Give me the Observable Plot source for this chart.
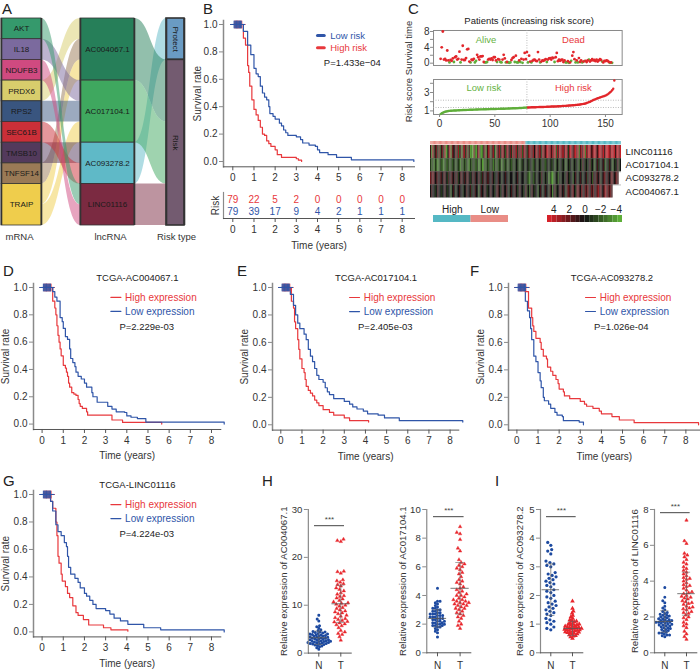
<!DOCTYPE html>
<html><head><meta charset="utf-8">
<script src="https://cdn.jsdelivr.net/npm/d3@7"></script>
<script src="https://cdn.jsdelivr.net/npm/@observablehq/plot@0.6"></script>
<style>
html,body{margin:0;padding:0;background:#fff}
#root{position:relative;width:700px;height:671px;overflow:hidden;font-family:"Liberation Sans",Arial,sans-serif;color:#222}
.lt{position:absolute;font-size:15px;line-height:15px;color:#222}
</style></head><body><div id="root"></div>
<script>
// ---------- Panel A data
const mrna = ["AKT","IL18","NDUFB3","PRDX6","RPS2","SEC61B","TMSB10","TNFSF14","TRAIP"];
const lncrna = ["AC004067.1","AC017104.1","AC093278.2","LINC01116"];
const riskTypes = ["Protect","Risk"];
const mrnaLinks = [["PRDX6","AC004067.1",1],["TNFSF14","AC004067.1",1],["TRAIP","AC004067.1",1],["IL18","AC017104.1",1],["RPS2","AC017104.1",1],["TRAIP","AC017104.1",1],["TMSB10","AC093278.2",1],["SEC61B","AC093278.2",1],["AKT","LINC01116",1],["NDUFB3","LINC01116",1]];
const lncLinks = [["AC093278.2","Protect",2],["AC004067.1","Risk",3],["AC017104.1","Risk",3],["LINC01116","Risk",2]];
const nodeColors = {AKT:"#35996c",IL18:"#7b6a9e",NDUFB3:"#d04a80",PRDX6:"#d8cd6c",RPS2:"#39557f",SEC61B:"#cb2f38",TMSB10:"#533a5c",TNFSF14:"#9a7a56",TRAIP:"#efcd4c","AC004067.1":"#267f59","AC017104.1":"#3fa85f","AC093278.2":"#5fb9c7",LINC01116:"#7b2a41",Protect:"#6a9bc3",Risk:"#735b70"};

// ---------- Panel B data
const bLow = [[-0.1,1],[0.5,.95],[0.7,.85],[0.85,.78],[1,.68],[1.1,.64],[1.2,.62],[1.3,.55],[1.4,.5],[1.5,.47],[1.6,.45],[1.7,.4],[1.75,.35],[1.9,.33],[2,.31],[2.2,.28],[2.3,.26],[2.4,.23],[2.5,.21],[2.6,.19],[3,.18],[3.2,.16],[3.3,.135],[3.6,.12],[3.9,.11],[4,.085],[4.1,.065],[4.5,.05],[4.9,.03],[5.6,.012],[8.55,0]];
const bHigh = [[-0.1,1],[0.5,.9],[0.6,.85],[0.7,.7],[0.75,.65],[0.8,.55],[0.9,.45],[1,.38],[1.1,.34],[1.2,.3],[1.3,.25],[1.4,.2],[1.5,.19],[1.6,.15],[1.7,.13],[1.8,.11],[2,.085],[2.1,.05],[2.3,.03],[3,.02],[3.1,.01],[3.25,0]];
const riskYears = [0,1,2,3,4,5,6,7,8];
const riskHigh = [79,22,5,2,0,0,0,0,0];
const riskLow = [79,39,17,9,4,2,1,1,1];
const censored = [0.06,0.1,0.14,0.18,0.2,0.24,0.28,0.32,0.36,0.4];

// ---------- Panels D-G data
const dHigh = [[-0.1,1],[.5,.9],[.6,.85],[.65,.8],[.7,.72],[.75,.65],[.8,.6],[.85,.55],[.9,.5],[1,.43],[1.1,.41],[1.15,.38],[1.2,.35],[1.25,.3],[1.3,.27],[1.4,.23],[1.5,.22],[1.6,.21],[1.7,.18],[1.75,.15],[1.8,.13],[1.9,.115],[2.1,.09],[2.15,.065],[3.3,.03],[3.8,.012],[5.65,0]];
const dLow = [[-0.1,1],[.5,.97],[.6,.93],[.7,.9],[.85,.78],[.95,.75],[1,.7],[1.1,.64],[1.2,.62],[1.3,.55],[1.35,.48],[1.45,.45],[1.55,.42],[1.6,.38],[1.7,.35],[1.85,.33],[2,.3],[2.1,.27],[2.35,.23],[2.4,.2],[2.6,.18],[2.6,.16],[3.1,.13],[3.3,.11],[3.5,.09],[3.9,.085],[4,.06],[4.2,.05],[4.5,.04],[4.9,.015],[8.6,0]];
const eHigh = [[-0.1,1],[.5,.9],[.6,.85],[.65,.75],[.7,.7],[.8,.62],[.85,.55],[.9,.48],[1,.41],[1.1,.38],[1.15,.33],[1.2,.28],[1.3,.25],[1.4,.23],[1.5,.21],[1.6,.18],[1.7,.16],[1.8,.14],[2,.11],[2.3,.09],[2.5,.07],[3,.05],[3.25,.03],[4.15,.02]];
const eLow = [[-0.1,1],[.45,.95],[.6,.87],[.7,.8],[.8,.74],[.9,.7],[1.1,.66],[1.2,.62],[1.3,.55],[1.4,.5],[1.5,.46],[1.6,.41],[1.7,.36],[1.8,.33],[2,.31],[2.1,.27],[2.2,.24],[2.3,.22],[2.5,.19],[3,.17],[3.25,.15],[3.4,.13],[3.6,.115],[3.9,.1],[4.1,.08],[4.6,.07],[4.9,.05],[5.6,.03],[8.6,.02]];
const fHigh = [[-0.1,1],[.4,.97],[.55,.85],[.7,.78],[.75,.72],[.8,.68],[.9,.63],[1.1,.6],[1.15,.55],[1.25,.5],[1.4,.48],[1.45,.42],[1.6,.39],[1.7,.36],[1.85,.33],[1.95,.3],[2,.26],[2.2,.24],[2.25,.21],[2.5,.19],[3,.17],[3.2,.15],[3.3,.135],[3.6,.12],[3.9,.1],[4,.08],[4.5,.06],[4.85,.035],[5.55,.015],[8.6,0]];
const fLow = [[-0.1,1],[.4,.9],[.5,.83],[.6,.78],[.65,.7],[.7,.62],[.8,.5],[.9,.46],[1,.38],[1.1,.32],[1.15,.27],[1.25,.2],[1.3,.175],[1.5,.15],[1.6,.12],[1.8,.09],[1.9,.07],[2.15,.06],[2.2,.03],[2.95,.02],[3.15,0]];
const gHigh = [[-0.1,1],[.4,.95],[.5,.9],[.65,.8],[.7,.7],[.75,.55],[.8,.5],[.9,.42],[.95,.37],[1.1,.33],[1.2,.28],[1.3,.25],[1.45,.19],[1.6,.14],[1.7,.12],[1.95,.09],[2.2,.05],[2.9,.03],[3.25,.015],[4.05,.005]];
const gLow = [[-0.1,1],[.4,.95],[.5,.88],[.65,.78],[.75,.73],[.9,.7],[1.05,.65],[1.15,.62],[1.2,.55],[1.25,.47],[1.35,.42],[1.55,.39],[1.7,.36],[1.8,.32],[2,.28],[2.1,.26],[2.25,.23],[2.4,.2],[2.55,.17],[3,.155],[3.2,.13],[3.4,.1],[3.7,.08],[4.05,.055],[4.8,.03],[5.6,.015],[8.6,0]];

// ---------- Panel C data
const survivalYears = [1.1,4.0,8.0,.9,1.1,.7,3.2,.7,.2,.8,.6,1.2,.3,1.5,1.7,.9,1.1,2.9,.2,.9,4.4,.8,.8,1.3,3.5,3.6,.4,.2,.9,.8,1.1,.2,.6,2.1,1.5,.9,1.7,1.7,1.8,.3,.2,.2,.3,.9,1.1,.9,1.2,.8,1.5,1.5,.7,.3,1.0,.9,.3,.2,.9,2.1,1.2,.2,.3,.2,.1,.2,.8,1.3,1.5,.3,1.9,.2,.2,.7,.3,1.1,.1,.9,2.6,1.0,2.8,.2,1.9,.4,.2,.6,.8,.9,.6,.5,2.8,.9,.2,.4,.7,.6,.8,1.0,.3,.9,1.2,1.3,.9,1.4,1.3,.3,1.5,2.6,.5,.9,.6,.8,.9,.3,.7,.2,.2,.5,.1,.2,.6,1.9,2.8,1.0,.2,.7,.2,1.3,.3,.7,.2,.4,.5,.6,.3,.7,.9,.4,.7,1.0,.7,.8,.5,.9,.4,.7,1.0,.8,.4,.2,.6,.5,.7,.6,.3,.1,.2,.1];
const aliveRanks = [9,13,19,28,32,33,41,42,43,52,55,56,60,62,63,64,68,70,71,73,75,80,83,91,97,104,114,115,117,119,123,125,129,131,135,147,154,156,157,158];
const riskScore = [.65,.75,.8,.86,.9,.93,.96,.98,1.0,1.01,1.02,1.03,1.04,1.05,1.05,1.06,1.07,1.07,1.08,1.08,1.09,1.09,1.1,1.1,1.11,1.11,1.12,1.12,1.13,1.13,1.14,1.14,1.15,1.15,1.16,1.16,1.17,1.17,1.17,1.18,1.18,1.18,1.19,1.19,1.19,1.2,1.2,1.2,1.21,1.21,1.21,1.22,1.22,1.22,1.23,1.23,1.24,1.24,1.24,1.25,1.25,1.26,1.26,1.27,1.27,1.28,1.28,1.29,1.29,1.3,1.3,1.31,1.31,1.32,1.33,1.34,1.35,1.36,1.37,1.37,1.38,1.38,1.39,1.39,1.4,1.4,1.4,1.41,1.41,1.42,1.42,1.43,1.43,1.43,1.44,1.44,1.45,1.45,1.46,1.46,1.47,1.47,1.48,1.48,1.49,1.49,1.5,1.5,1.51,1.52,1.53,1.54,1.55,1.55,1.56,1.57,1.58,1.59,1.6,1.61,1.62,1.63,1.64,1.65,1.66,1.68,1.7,1.72,1.74,1.76,1.78,1.8,1.85,1.9,1.95,2.0,2.06,2.12,2.18,2.22,2.28,2.33,2.38,2.42,2.46,2.5,2.55,2.58,2.62,2.66,2.72,2.8,2.9,3.0,3.1,3.25,3.4,4.3];
const heatRows = ["LINC01116","AC017104.1","AC093278.2","AC004067.1"];
const heatLinc = [1,-3,3,-1,1,2,-1,2,-2,1,2,-1,3,-4,-2,1,3,-3,2,1,0,2,-1,3,-2,1,-3,2,3,-1,2,-2,1,-4,-3,-4,2,-3,-4,1,3,-2,-4,-3,1,2,-3,1,3,2,-2,1,3,-1,-3,2,1,3,-1,2,3,1,-2,2,3,0,2,-1,3,1,2,3,-1,2,1,3,-2,2,3,1,-1,2,3,2,1,3,0,2,3,1,3,2,-1,3,2,1,3,4,2,3,1,3,2,4,-2,3,1,4,2,3,3,1,4,2,-1,3,4,2,1,3,4,2,3,-3,2,3,1,4,-3,3,2,4,3,1,2,3,4,2,1,3,4,3,2,4,1,3,4,4,3,2,4,3,4,1,3,4,2,4];
const heatAc17 = [-1,-2,-1,-3,-1,-2,-3,-2,-1,-2,-2,-3,-1,-2,-2,-1,-2,-1,-2,-1,-1,-2,-1,-1,-2,-3,-1,-2,-1,-2,-1,-2,-3,-1,-2,-1,-1,-2,-2,-1,-3,-2,-1,-4,-3,-1,-2,-1,-2,-1,-1,-1,-3,-1,-2,-1,-2,-1,-1,-3,-1,-2,-1,-1,-2,-1,-1,-2,-1,-1,-1,0,-1,-1,-2,-1,-1,0,-1,-1,0,-1,-1,0,-1,-2,-1,0,-1,-1,0,-1,-1,0,-1,-2,-1,0,-1,0,-1,-1,0,-2,-1,0,-1,-1,0,-1,0,-1,-2,-1,0,-1,0,-1,-1,0,-1,0,-1,-2,0,-1,1,0,-1,0,-1,0,1,-1,0,-1,-2,0,1,-1,0,-1,0,1,-1,-2,0,-1,1,0,-1,-2,0,-1,0,1,-1,0];
const heatAc93 = [2,1,2,1,0,1,1,0,1,1,0,1,1,0,-1,1,0,1,1,0,1,0,1,-1,0,1,1,0,1,0,1,1,0,-1,0,1,0,1,0,0,1,0,-1,1,0,1,0,1,1,0,0,1,0,-1,0,0,1,0,0,-1,0,0,1,0,0,-1,0,0,0,-1,0,0,1,0,-1,0,0,0,-1,0,-1,-2,-3,-1,0,-2,-1,0,-1,0,0,-1,1,0,-1,0,-1,0,-3,-1,-3,-4,-2,-1,0,-1,-2,0,-1,0,0,-1,0,1,0,-1,0,0,-2,0,1,0,-1,0,1,0,-1,0,0,1,-1,0,1,0,-2,1,0,1,1,0,1,-1,0,1,2,1,0,1,0,1,2,1,0,1,2,1];
const heatAc40 = [0,1,0,0,-1,0,1,0,0,-1,0,0,1,0,-1,0,0,-2,0,1,0,-1,0,0,1,0,0,-1,0,0,1,0,0,1,-1,0,0,1,0,0,-2,0,1,0,0,1,0,-1,0,0,1,0,0,-1,0,1,1,0,-1,0,1,0,0,1,0,-1,0,1,0,0,1,0,-1,0,1,0,0,-1,0,1,-1,0,-2,0,1,0,-1,0,0,-2,0,1,0,-1,0,1,0,0,-1,1,0,-3,0,1,-1,0,0,1,1,0,1,0,-1,1,2,1,0,1,2,0,-1,1,2,1,0,2,1,0,2,1,2,1,0,2,1,2,0,1,2,3,1,2,0,1,2,3,1,2,1,2,1];
const heatTicks = [4,2,0,-2,-4];
const heatBarSteps = [4.8,4.2,3.6,3,2.4,1.8,1.2,.6,0,-.6,-1.2,-1.8,-2.4,-3,-3.6,-4.2];

// ---------- Panels H, I data
const ac40N = [.8,1.1,1.3,1.5,1.6,1.7,1.8,1.9,1.9,2,2,2.1,2.1,2.2,2.2,2.3,2.4,2.4,2.5,2.5,2.6,2.6,2.7,2.8,2.8,2.9,3,3,3.1,3.1,3.2,3.3,3.3,3.4,3.5,3.5,3.6,3.7,3.8,3.8,3.9,4,4,4.1,4.2,4.3,4.4,4.4,4.5,4.7,4.9,5.2,5.5,5.7,6.7,7.1,7.9];
const ac40T = [2.7,3.4,3.9,4.1,4.4,4.7,5.3,5.7,5.9,6.1,6.3,6.5,6.6,6.8,7,7.2,7.4,7.7,7.9,8.2,8.4,8.6,8.8,9,9.3,9.5,9.8,10,10.2,10.4,10.5,10.7,11,11.3,11.5,11.8,12,12.3,12.6,13,13.3,13.6,14,14.3,14.5,14.8,15.1,15.3,16.7,17,17.1,23.3,23.5,23.8];
const ac17N = [1.1,1.4,1.5,1.6,1.7,1.8,1.8,1.9,1.9,1.9,2,2,2,2.1,2.1,2.1,2.2,2.2,2.2,2.3,2.3,2.4,2.4,2.4,2.5,2.5,2.5,2.6,2.6,2.6,2.7,2.7,2.7,2.8,2.8,2.9,2.9,3,3,3.1,3.1,3.2,3.3,3.4,3.5,3.6,3.6,4.5];
const ac17T = [1.7,1.9,2,2.2,2.4,2.5,2.6,2.7,2.8,2.9,3,3.1,3.1,3.2,3.3,3.3,3.4,3.4,3.5,3.5,3.6,3.6,3.7,3.7,3.8,3.9,4,4,4.1,4.2,4.3,4.4,4.5,4.6,4.8,4.9,5,5.1,5.3,5.5,5.6,5.8,5.9,6,6.1,6.2,6.3,6.5,7.1,7.3,7.9,8.3,8.4,8.8];
const ac93N = [.8,.85,.9,1,1.05,1.1,1.15,1.2,1.3,1.35,1.4,1.45,1.5,1.55,1.6,1.65,1.7,1.75,1.8,1.9,1.95,2,2.1,2.15,2.2,2.3,2.35,2.4,2.45,2.5,2.55,2.6,2.65,2.7,2.75,2.8,3,3.05,3.1,3.15,3.2,3.45,3.55,3.6,3.75,3.85];
const ac93T = [.5,.55,.58,.6,.62,.65,.66,.68,.7,.7,.72,.73,.75,.76,.78,.78,.8,.8,.82,.83,.85,.85,.87,.88,.9,.9,.92,.93,.95,.96,.98,1,1,1.02,1.05,1.08,1.1,1.12,1.15,1.2,1.25,1.3,1.38,1.45,1.55,1.8];
const lincN = [.9,.95,1,1,1.05,1.1,1.1,1.15,1.2,1.25,1.3,1.3,1.35,1.4,1.4,1.45,1.5,1.5,1.55,1.55,1.6,1.6,1.65,1.65,1.7,1.7,1.7,1.75,1.75,1.8,1.8,1.85,1.85,1.9,1.9,1.95,2,2,2.05,2.1,2.1,2.15,2.2,2.25,2.3,2.4,2.5,2.6,2.8,2.9,3.1,3.65];
const lincT = [.75,.9,1.05,1.2,1.4,1.5,1.6,1.7,1.85,1.95,2,2.1,2.2,2.25,2.3,2.4,2.45,2.5,2.55,2.6,2.7,2.75,2.8,2.85,2.9,3,3.05,3.1,3.15,3.2,3.3,3.35,3.4,3.5,3.6,3.7,3.75,3.8,3.9,4,4.1,4.15,4.2,4.3,4.4,4.5,4.6,4.7,4.8,4.95,5.05,5.2,5.35,5.45,5.55,6.1,6.25,7.4];
const swarmStats = {ac40:[[3.2,1.4],[10.3,3.9]],ac17:[[2.4,.6],[4.5,1.8]],ac93:[[2.2,.9],[.85,.25]],linc:[[1.75,.6],[3.3,1.2]]};

// ---------- Styling
const RED="#e8383c", BLUE="#2f55a8", AX="#8a8a8a", TXT="#333";
const FONT='"Liberation Sans",Arial,sans-serif';
const root=document.getElementById("root");
function place(svg,left,top){svg.style.position="absolute";svg.style.left=left+"px";svg.style.top=top+"px";svg.style.maxWidth="none";root.appendChild(svg);}
const base={style:{fontFamily:FONT,fontSize:"10px",background:"transparent",overflow:"visible",color:TXT}};

// letters
[["A",2,1],["B",203,1],["C",408,1],["D",3,263],["E",237,263],["F",470,263],["G",3,473],["H",262,473],["I",495,473]].forEach(([t,l,y])=>{
  const d=document.createElement("div");d.className="lt";d.textContent=t;d.style.left=l+"px";d.style.top=y+"px";root.appendChild(d);});

// ---------- Panel A: Sankey
(function(){
  const layout={};
  const valueOf=(n,links,key)=>d3.sum(links.filter(l=>l[key]===n),l=>l[2]);
  const cols=[
    {names:mrna,x1:1,x2:41,size:n=>valueOf(n,mrnaLinks,0)},
    {names:lncrna,x1:80,x2:134,size:n=>valueOf(n,mrnaLinks,1)},
    {names:riskTypes,x1:166,x2:184,size:n=>valueOf(n,lncLinks,1)}];
  const nodes=[];
  cols.forEach(c=>{let y=0;c.names.forEach(n=>{const s=c.size(n);nodes.push({name:n,x1:c.x1,x2:c.x2,y1:y,y2:y+s,col:cols.indexOf(c)});layout[n]={top:y,x1:c.x1,x2:c.x2};y+=s;});});
  const ribbons=[];let id=0;
  const outOff={},inOff={};
  const addLinks=(links)=>links.forEach(([s,t,v])=>{
    const so=outOff[s]??layout[s].top, to=inOff[t]??layout[t].top;
    outOff[s]=so+v; inOff[t]=to+v;
    ribbons.push({id,name:s,x:layout[s].x2,y1:so,y2:so+v});
    ribbons.push({id,name:s,x:layout[t].x1,y1:to,y2:to+v});id++;
  });
  addLinks(mrnaLinks);addLinks(lncLinks);
  const edges=cols.flatMap(c=>[c.x1,c.x2]);
  const svg=Plot.plot({...base,width:195,height:245,marginLeft:0,marginRight:0,marginTop:18,marginBottom:20,
    x:{domain:[0,195],axis:null},y:{domain:[10,0],range:[225,18],axis:null},
    marks:[
      Plot.areaY(ribbons,{x:"x",y1:"y1",y2:"y2",z:"id",fill:d=>nodeColors[d.name],fillOpacity:.5,curve:"bump-x"}),
      Plot.rect(nodes,{x1:"x1",x2:"x2",y1:"y1",y2:"y2",fill:d=>nodeColors[d.name],stroke:"#333",strokeWidth:d=>d.col==2?1.6:.8}),
      Plot.ruleX(edges,{x:d=>d,y1:0,y2:10,stroke:"#333",strokeWidth:1.6}),
      Plot.text(nodes.filter(d=>d.col<2),{x:d=>(d.x1+d.x2)/2,y:d=>(d.y1+d.y2)/2,text:"name",fill:"#1a1a1a",fontSize:8}),
      Plot.text(nodes.filter(d=>d.col==2),{x:d=>(d.x1+d.x2)/2,y:d=>(d.y1+d.y2)/2,text:"name",fill:"#1a1a1a",fontSize:8,rotate:90}),
      Plot.text([["mRNA",19],["lncRNA",110],["Risk type",176]],{x:d=>d[1],y:10.55,text:d=>d[0],fill:TXT,fontSize:9.5})
    ]});
  place(svg,0,0);
})();

// ---------- KM panels
const kmRows=a=>a.map(([t,s])=>({t,s}));
function km(o){
  const k=(o.x8-o.x0)/8,v=o.y0-o.y1,top=o.y1-4;
  const ml=36,mt=26,mb=32;
  const xd=[(o.axL-o.x0)/k,(o.axR-o.x0)/k],yd=[(o.y0-o.axB)/v,(o.y0-top)/v];
  const ticksX=riskYears;
  const marks=[
    Plot.frame({anchor:"left",stroke:AX,strokeWidth:1.5}),
    Plot.frame({anchor:"bottom",stroke:"#555",strokeWidth:1}),
    Plot.line(kmRows(o.second),{x:"t",y:"s",curve:"step-after",stroke:o.secondColor,strokeWidth:1.2}),
    Plot.line(kmRows(o.first),{x:"t",y:"s",curve:"step-after",stroke:o.firstColor,strokeWidth:1.2}),
    Plot.dot(censored,{x:d=>d,y:1,symbol:"plus",r:2.6,stroke:RED,strokeWidth:.8,dx:.6}),
    Plot.dot(censored,{x:d=>d,y:1,symbol:"plus",r:2.6,stroke:BLUE,strokeWidth:1}),
    Plot.axisY({ticks:[0,.2,.4,.6,.8,1],tickFormat:".1f",tickSize:4,tickPadding:2,color:TXT,stroke:AX,label:"Survival rate",labelAnchor:"center",labelArrow:"none",labelOffset:o.labelOffset??31.5}),
    ...o.extra
  ];
  if(!o.noXLabel) marks.push(Plot.axisX({ticks:ticksX,tickSize:4,tickPadding:3,color:TXT,stroke:"#555",label:"Time (years)",labelAnchor:"center",labelArrow:"none",labelOffset:30}));
  else marks.push(Plot.axisX({ticks:ticksX,tickSize:4,tickPadding:3,color:TXT,stroke:"#555",label:null}));
  const svg=Plot.plot({...base,width:o.axR-o.axL+ml+1,height:o.axB-top+mt+mb,marginLeft:ml,marginRight:1,marginTop:mt,marginBottom:mb,
    x:{domain:xd,axis:null},y:{domain:yd,axis:null},marks});
  place(svg,o.axL-ml,top-mt);
}
function kmLegend(title,p){
  return [
    Plot.text([title],{x:4.5,y:1.072,fill:"#222",fontSize:9.5}),
    Plot.line([[3.25,.927],[3.72,.927]],{x:d=>d[0],y:d=>d[1],stroke:RED,strokeWidth:1.2}),
    Plot.line([[3.25,.825],[3.72,.825]],{x:d=>d[0],y:d=>d[1],stroke:BLUE,strokeWidth:1.2}),
    Plot.text(["High expression"],{x:3.92,y:.927,textAnchor:"start",fill:RED,fontSize:10}),
    Plot.text(["Low expression"],{x:3.92,y:.825,textAnchor:"start",fill:BLUE,fontSize:10}),
    Plot.text([p],{x:3.65,y:.714,textAnchor:"start",fill:"#222",fontSize:9.5})
  ];
}
km({x0:41.3,x8:210.7,y1:286.7,y0:423.3,axL:32.7,axR:220,axB:428.7,first:dLow,firstColor:BLUE,second:dHigh,secondColor:RED,extra:kmLegend("TCGA-AC004067.1","P=2.229e-03")});
km({x0:280,x8:449.3,y1:286.7,y0:424,axL:271.7,axR:458,axB:429.3,first:eLow,firstColor:BLUE,second:eHigh,secondColor:RED,extra:kmLegend("TCGA-AC017104.1","P=2.405e-03")});
km({x0:516.7,x8:685.7,y1:286.7,y0:424,axL:508.3,axR:700,axB:429.3,first:fHigh,firstColor:RED,second:fLow,secondColor:BLUE,extra:kmLegend("TCGA-AC093278.2","P=1.026e-04")});
km({x0:41.3,x8:210.7,y1:494.3,y0:631.7,axL:32.7,axR:220,axB:636.7,first:gLow,firstColor:BLUE,second:gHigh,secondColor:RED,extra:kmLegend("TCGA-LINC01116","P=4.224e-03")});

// Panel B
km({x0:232.3,x8:401.7,y1:23.7,y0:160.7,axL:223,axR:414,axB:166,first:bLow,firstColor:BLUE,second:bHigh,secondColor:RED,noXLabel:true,labelOffset:30,extra:[
  Plot.line([[4.0,.92],[4.32,.92]],{x:d=>d[0],y:d=>d[1],stroke:BLUE,strokeWidth:3}),
  Plot.line([[4.0,.83],[4.32,.83]],{x:d=>d[0],y:d=>d[1],stroke:RED,strokeWidth:3}),
  Plot.text(["Low risk"],{x:4.6,y:.92,textAnchor:"start",fill:BLUE,fontSize:9.5}),
  Plot.text(["High risk"],{x:4.6,y:.83,textAnchor:"start",fill:RED,fontSize:9.5}),
  Plot.text(["P=1.433e\u221204"],{x:4.3,y:.72,textAnchor:"start",fill:"#222",fontSize:9.5})
]});
// Risk table
(function(){
  const k=(401.7-232.3)/8;
  const table=[...riskYears.map((x,i)=>({x,g:"High",n:riskHigh[i]})),...riskYears.map((x,i)=>({x,g:"Low",n:riskLow[i]}))];
  const svg=Plot.plot({...base,width:191+20+1,height:26+34+2,marginLeft:20,marginRight:1,marginTop:2,marginBottom:34,
    x:{domain:[(223-232.3)/k,(414-232.3)/k],axis:null},
    y:{type:"point",domain:["High","Low"],axis:null,padding:.55},
    marks:[
      Plot.frame({anchor:"left",stroke:AX,strokeWidth:1.2}),
      Plot.frame({anchor:"bottom",stroke:"#555",strokeWidth:1}),
      Plot.text(table,{x:"x",y:"g",text:d=>String(d.n),fill:d=>d.g=="High"?RED:BLUE,fontSize:10}),
      Plot.axisX({ticks:riskYears,tickSize:4,tickPadding:3,color:TXT,stroke:"#555",label:"Time (years)",labelAnchor:"center",labelArrow:"none",labelOffset:30}),
      Plot.text(["Risk"],{frameAnchor:"left",textAnchor:"middle",dx:-8,rotate:-90,fill:TXT,fontSize:10})
    ]});
  place(svg,203,190);
})();

// ---------- Panel C top
(function(){
  const k=(605-439)/150;
  const ranks=survivalYears.map((v,i)=>({r:i+1,v,alive:aliveRanks.includes(i+1)}));
  const xd=[(433-439)/k,(621.7-439)/k];
  const yk=(62.7-31)/8;
  const common={x:{domain:xd,axis:null}};
  const svg1=Plot.plot({...base,...common,width:188.7+30,height:35+20,marginLeft:29,marginRight:1,marginTop:19,marginBottom:1,
    y:{domain:[(62.7-65)/yk,(62.7-30)/yk],axis:null},
    marks:[
      Plot.frame({stroke:AX,strokeWidth:1}),
      Plot.ruleX([79],{stroke:"#aaa",strokeDasharray:"1,1.5",strokeWidth:.8}),
      Plot.dot(ranks.filter(d=>d.alive),{x:"r",y:"v",r:1.4,fill:"#5fae3a"}),
      Plot.dot(ranks.filter(d=>!d.alive),{x:"r",y:"v",r:1.4,fill:"#e2262b"}),
      Plot.axisY({ticks:[0,4,8],tickFormat:"d",tickSize:3,tickPadding:1,color:TXT,stroke:AX,label:null}),
      Plot.axisY({ticks:[2,6],tickFormat:()=>"",tickSize:3,stroke:AX,label:null}),
      Plot.text(["Alive"],{x:42,y:5.9,fill:"#66b23f",fontSize:9.5}),
      Plot.text(["Dead"],{x:121,y:5.9,fill:RED,fontSize:9.5}),
      Plot.text(["Patients (increasing risk score)"],{x:81,y:10.7,fill:"#222",fontSize:9.5}),
      Plot.text(["Survival time"],{frameAnchor:"left",textAnchor:"middle",dx:-25,rotate:-90,fill:TXT,fontSize:9.5})
    ]});
  place(svg1,404,11);
  const yr=(110.7-92.3)/2;
  const scored=riskScore.map((v,i)=>({r:i+1,v}));
  const svg2=Plot.plot({...base,...common,width:188.7+30,height:35+20,marginLeft:29,marginRight:1,marginTop:1,marginBottom:19,
    y:{domain:[1-(114.3-110.7)/yr,3+(92.3-79.3)/yr],axis:null},
    marks:[
      Plot.frame({stroke:AX,strokeWidth:1}),
      Plot.ruleX([79],{stroke:"#aaa",strokeDasharray:"1,1.5",strokeWidth:.8}),
      Plot.ruleY([1.37,2.16],{stroke:"#aaa",strokeDasharray:"1,1.5",strokeWidth:.8}),
      Plot.dot(scored.filter(d=>d.r<=79),{x:"r",y:"v",r:1.2,fill:"#5fae3a"}),
      Plot.dot(scored.filter(d=>d.r>79),{x:"r",y:"v",r:1.2,fill:"#e2262b"}),
      Plot.axisY({ticks:[1,3],tickFormat:"d",tickSize:3,tickPadding:1,color:TXT,stroke:AX,label:null}),
      Plot.axisY({ticks:[2,4],tickFormat:()=>"",tickSize:3,stroke:AX,label:null}),
      Plot.axisX({ticks:[0,50,100,150],tickSize:3,tickPadding:2,color:TXT,stroke:AX,label:null}),
      Plot.text(["Low risk"],{x:40,y:3.48,fill:"#66b23f",fontSize:9.5}),
      Plot.text(["High risk"],{x:121,y:3.48,fill:RED,fontSize:9.5}),
      Plot.text(["Risk score"],{frameAnchor:"left",textAnchor:"middle",dx:-25,dy:3,rotate:-90,fill:TXT,fontSize:9.5})
    ]});
  place(svg2,404,78);
})();

// ---------- Heatmap
(function(){
  const rows=[heatLinc,heatAc17,heatAc93,heatAc40];
  const cells=rows.flatMap((a,ri)=>a.map((v,c)=>({c,row:heatRows[ri],v})));
  const color={type:"linear",domain:[-4.8,0,4.8],range:["#62b83a","#121212","#e3222b"],clamp:true};
  const order=d3.range(158);
  const svg=Plot.plot({...base,width:191,height:52.5,marginLeft:0,marginRight:0,marginTop:0,marginBottom:0,
    x:{type:"band",domain:order,round:false,padding:0,axis:null},
    y:{type:"band",domain:heatRows,round:false,padding:0,axis:null},
    color,
    marks:[
      Plot.cell(cells,{x:"c",y:"row",fill:"v"}),
      Plot.ruleY(heatRows.slice(1),{y:d=>d,stroke:"#555",strokeWidth:.4,dy:-6.5}),
      Plot.text(heatRows,{y:d=>d,frameAnchor:"right",dx:4,textAnchor:"start",fill:"#222",fontSize:9.6})
    ]});
  place(svg,430,145.3);
  const groups=order.map(c=>({c,g:c<79?"Low":"High"}));
  const bar=Plot.plot({...base,width:191,height:3.4,margin:0,
    x:{type:"band",domain:order,round:false,padding:0,axis:null},
    marks:[Plot.cell(groups,{x:"c",fill:d=>d.g=="Low"?"#e98d86":"#55b8c4"})]});
  place(bar,430,141);
  const leg=Plot.plot({...base,width:75,height:7+14,marginLeft:0,marginRight:0,marginTop:14,marginBottom:0,
    x:{type:"band",domain:["High","Low"],round:false,padding:0,axis:null},
    marks:[Plot.cell(["High","Low"],{x:d=>d,fill:d=>d=="High"?"#55b8c4":"#e98d86"}),
      Plot.axisX({anchor:"top",tickSize:0,tickPadding:3,color:"#222",label:null,fontSize:10})]});
  place(leg,433,201);
  const cb=Plot.plot({...base,width:75,height:21,marginLeft:0,marginRight:0,marginTop:14,marginBottom:0,
    x:{domain:[4.8,-4.8],axis:null},color,
    marks:[Plot.rect(heatBarSteps,{x1:d=>d,x2:d=>d-.6,fill:d=>d-.3}),
      Plot.axisX({anchor:"top",ticks:heatTicks,tickSize:0,tickPadding:3,color:"#222",label:null,fontSize:10})]});
  place(cb,546.7,201);
})();

// ---------- Swarm panels
function swarm(o){
  const {axX,yTopPx,yBotPx,yMax,N,T,stats,label,ticks,sig,nx,tx,right,labelX,rN,rT}=o;
  const step=tx-nx,inner=.05,bw=step*(1-inner);
  const outer=(nx-axX-bw/2)/step;
  const rowsN=N.map(v=>({g:"N",v})),rowsT=T.map(v=>({g:"T",v}));
  const st=[{g:"N",m:stats[0][0],s:stats[0][1]},{g:"T",m:stats[1][0],s:stats[1][1]}];
  const ml=axX-labelX+10,mr=12,mt=6,mb=22;
  const gw=right-axX;
  const swarmMark=(rows,r,symbol,col)=>Plot.dot(rows,Plot.dodgeX("middle",{fx:"g",y:"v",r,padding:0,symbol,fill:col,stroke:col,strokeWidth:Math.max(0,2*(1.5-r))}));
  const svg=Plot.plot({...base,width:ml+gw+mr,height:yBotPx-yTopPx+mt+mb,marginLeft:ml,marginRight:mr+(gw-(2*outer*step+step+bw)),marginTop:mt,marginBottom:mb,
    fx:{domain:["N","T"],paddingInner:inner,paddingOuter:outer,round:false,axis:null},
    x:{domain:[-1,1],axis:null},
    y:{domain:[0,yMax],axis:null},
    marks:[
      swarmMark(rowsN,rN,"circle","#1d4aa0"),
      swarmMark(rowsT,rT,"triangle","#e8262c"),
      Plot.ruleX(st,{fx:"g",x:0,y1:d=>d.m-d.s,y2:d=>d.m+d.s,stroke:"#666",strokeWidth:.7}),
      Plot.ruleY(st,{fx:"g",y:"m",x1:-.85,x2:.85,stroke:"#555",strokeWidth:.8}),
      Plot.ruleY(st,{fx:"g",y:d=>d.m-d.s,x1:-.4,x2:.4,stroke:"#666",strokeWidth:.6}),
      Plot.ruleY(st,{fx:"g",y:d=>d.m+d.s,x1:-.4,x2:.4,stroke:"#666",strokeWidth:.6}),
      Plot.frame({anchor:"left",stroke:AX,strokeWidth:1.2,facet:"super"}),
      Plot.frame({anchor:"bottom",stroke:"#555",strokeWidth:1,facet:"super"}),
      Plot.axisY({ticks,tickFormat:"d",tickSize:4,tickPadding:2,color:TXT,stroke:AX,fontSize:9.6,label,labelAnchor:"center",labelArrow:"none",labelOffset:axX-labelX+3.5}),
      Plot.axisFx({anchor:"bottom",tickSize:4,tickPadding:5,color:TXT,stroke:"#555",label:null})
    ]});
  place(svg,axX-ml,yTopPx-mt);
  const sb=Plot.plot({...base,width:step+8,height:14,margin:0,x:{domain:["N","T"],type:"point",range:[4,step+4],axis:null},y:{domain:[0,1],axis:null},
    marks:[Plot.ruleY([0.2],{stroke:"#444",strokeWidth:1}),Plot.text(["***"],{frameAnchor:"middle",dy:-2,fill:"#444",fontSize:8})]});
  place(sb,nx-4,sig-11);
}
swarm({axX:304.3,yTopPx:508.7,yBotPx:652.3,yMax:30,N:ac40N,T:ac40T,rN:.75,rT:1.3,stats:swarmStats.ac40,label:"Relative expression of AC004067.1",ticks:[0,10,20,30],sig:525.3,nx:318.3,tx:340.3,right:353.3,labelX:280});
swarm({axX:421,yTopPx:509,yBotPx:652.3,yMax:10,N:ac17N,T:ac17T,rN:.8,rT:1.3,stats:swarmStats.ac17,label:"Relative expression of AC017104.1",ticks:[0,2,4,6,8,10],sig:516,nx:436.7,tx:459.3,right:472.3,labelX:396.7});
swarm({axX:536.7,yTopPx:509,yBotPx:652.3,yMax:5,N:ac93N,T:ac93T,rN:1.6,rT:.7,stats:swarmStats.ac93,label:"Relative expression of AC093278.2",ticks:[0,1,2,3,4,5],sig:516,nx:550,tx:571.7,right:586,labelX:515.7});
swarm({axX:650,yTopPx:509,yBotPx:652.3,yMax:8,N:lincN,T:lincT,rN:.85,rT:1.2,stats:swarmStats.linc,label:"Relative expression of LINC01116",ticks:[0,2,4,6,8],sig:511.7,nx:664.3,tx:686,right:699,labelX:630});
</script></body></html>
